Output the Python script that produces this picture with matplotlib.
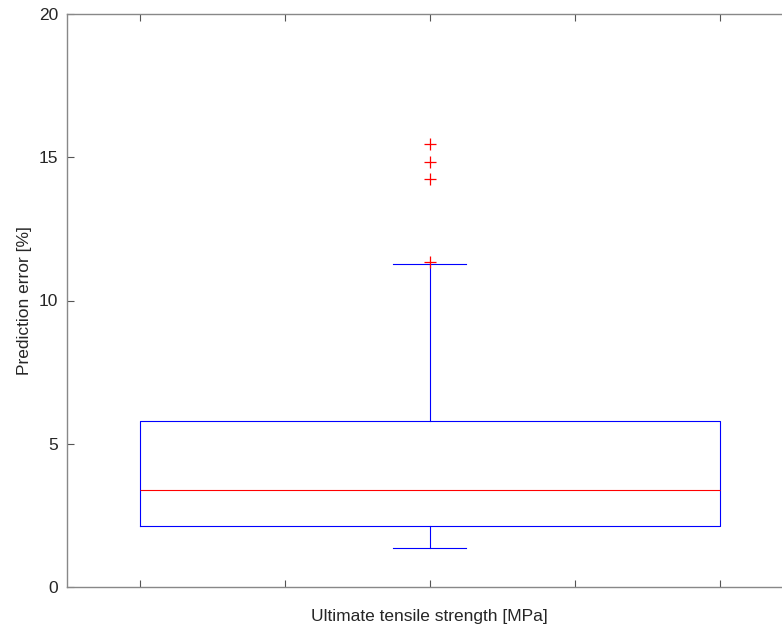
import matplotlib
matplotlib.use("Agg")
import matplotlib.pyplot as plt

# box statistics (prediction error in %)
median = 3.38
q1 = 2.12
q3 = 5.79
whisker_low = 1.36
whisker_high = 11.27
outliers = [11.33, 14.24, 14.83, 15.46]
x_ticks = [0.6, 0.8, 1.0, 1.2, 1.4]

plt.rcParams['font.family'] = ['Liberation Sans', 'DejaVu Sans']

fig = plt.figure(figsize=(7.82, 6.27), dpi=100)
# axes runs past the right edge of the figure, as in the reference
ax = fig.add_axes([67 / 782, 40 / 627, 725.5 / 782, 573 / 627])

stats = [dict(med=median, q1=q1, q3=q3, whislo=whisker_low, whishi=whisker_high,
              fliers=outliers)]
ax.bxp(stats, positions=[1.0], widths=0.8, capwidths=0.1, showfliers=True,
       boxprops=dict(color='blue', linewidth=0.8),
       whiskerprops=dict(color='blue', linewidth=0.8, linestyle='-'),
       capprops=dict(color='blue', linewidth=0.8),
       medianprops=dict(color='red', linewidth=0.8),
       flierprops=dict(marker='+', markeredgecolor='red', markersize=8,
                       markeredgewidth=0.9, linestyle='none'))

ax.set_xlim(0.5, 1.5)
ax.set_ylim(0, 20)
ax.set_yticks([0, 5, 10, 15, 20])
ax.set_xticks(x_ticks)
ax.set_xticklabels([])
ax.tick_params(axis='both', direction='in', length=5, width=0.8, color='#555555',
               labelsize=12.5, labelcolor='#262626', pad=6.5)
ax.tick_params(axis='x', top=True)
ax.spines['right'].set_visible(False)
for s in ['left', 'top', 'bottom']:
    ax.spines[s].set_color('#888888')
    ax.spines[s].set_linewidth(1.0)

ax.set_xlabel('Ultimate tensile strength [MPa]', fontsize=12.5, color='#262626', labelpad=9)
ax.set_ylabel('Prediction error [%]', fontsize=12.5, color='#262626', labelpad=5)

fig.savefig('out.png', dpi=100)
